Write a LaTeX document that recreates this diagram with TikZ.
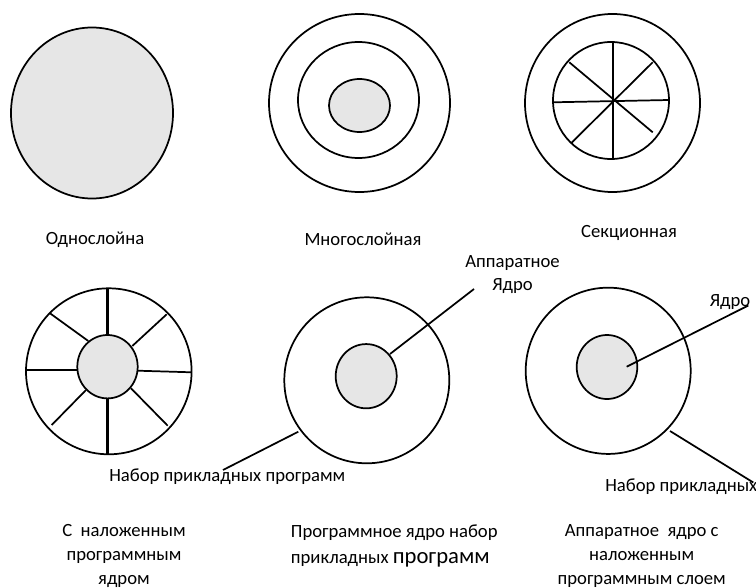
\documentclass[tikz,border=0pt]{standalone}
\usepackage{fontspec}
\setmainfont{Carlito}
\usetikzlibrary{shapes.geometric}
\begin{document}
\begin{tikzpicture}[x=0.75pt,y=-0.75pt,
  ring/.style={draw=black,line width=1.3pt,ellipse,inner sep=0pt,outer sep=0pt},
  core/.style={ring,fill=corefill},
  spoke/.style={draw=black,line width=1.3pt},
  thickspoke/.style={draw=black,line width=1.8pt},
  lead/.style={draw=black,line width=1.3pt},
  lbl/.style={font=\fontsize{14}{18}\selectfont,inner sep=0pt,align=center}]
\definecolor{corefill}{HTML}{E6E6E6}
\useasboundingbox[fill=white] (0,0) rectangle (756,588);

% 1
\node[core,minimum width=121.5pt,minimum height=128.25pt] (c1) at (92,113) {};
\node[lbl] (t1) at (95,240) {Однослойна};

% 2
\node[ring,minimum width=135.75pt,minimum height=133.5pt] (c2o) at (359.5,103) {};
\node[ring,minimum width=90.75pt,minimum height=87pt] (c2m) at (358.5,100) {};
\node[core,minimum width=45.75pt,minimum height=39.75pt] (c2i) at (359.5,105.5) {};
\node[lbl] (t2) at (363,239) {Многослойная};

% 3
\node[ring,minimum width=131.25pt,minimum height=133.5pt] (c3o) at (612.5,103) {};
\node[ring,minimum width=87pt,minimum height=87.75pt] (c3i) at (611,100.5) {};
\draw[spoke] (613.3,42.3) -- (613.3,159);
\draw[spoke] (553.3,102.3) -- (669,100);
\draw[spoke] (569.3,62.3) -- (652.7,132.3);
\draw[spoke] (652.7,62.3) -- (571,143.3);
\node[lbl] (t3) at (629,233) {Секционная};

% 4
\node[ring,minimum width=124.2pt,minimum height=124.5pt] (c4o) at (108.8,371.3) {};
\node[core,minimum width=45.3pt,minimum height=47.55pt] (c4i) at (107.5,366.7) {};
\draw[thickspoke] (107.3,288.3) -- (107.3,335);
\draw[thickspoke] (107.3,398.3) -- (107.3,454.3);
\draw[spoke] (26,370) -- (77.3,370);
\draw[spoke] (137.7,370.7) -- (191.7,372.3);
\draw[spoke] (50,313.3) -- (88.3,341);
\draw[spoke] (166.7,314.3) -- (132.3,346);
\draw[spoke] (51.7,425) -- (86,390);
\draw[spoke] (167.7,425.7) -- (131,388.3);
\node[lbl] (t4) at (124,556) {С\ \ наложенным\\программным\\ядром};

% 5
\node[ring,minimum width=123.75pt,minimum height=124.5pt] (c5o) at (366.8,380.3) {};
\node[core,minimum width=45.75pt,minimum height=48.2pt] (c5i) at (366.2,376.2) {};
\node[lbl,font=\fontsize{14}{16.8}\selectfont] (k5) at (512.5,274.5) {Аппаратное\\Ядро};
\coordinate (k5a) at (390,354);
\coordinate (k5b) at (474,289);
\draw[lead] (k5a) -- (k5b);
\node[lbl,anchor=west] (p5) at (109,477) {Набор прикладных программ};
\coordinate (p5a) at (298.3,431.7);
\coordinate (p5b) at (223,470);
\draw[lead] (p5a) -- (p5b);
\node[lbl,anchor=west,align=left,font=\fontsize{14}{19.5}\selectfont] (t5) at (290.7,546.3) {Программное ядро набор\\прикладных {\fontsize{17}{19.5}\selectfont программ}};

% 6
\node[ring,minimum width=123.75pt,minimum height=124.7pt] (c6o) at (608.2,370.8) {};
\node[core,minimum width=45.45pt,minimum height=48pt] (c6i) at (607,367) {};
\node[lbl] (k6) at (730,301.7) {Ядро};
\coordinate (k6a) at (626.7,366.7);
\coordinate (k6b) at (748.3,305.5);
\draw[lead] (k6a) -- (k6b);
\node[lbl,anchor=west] (p6) at (605,486.7) {Набор прикладных};
\coordinate (p6a) at (670,431);
\coordinate (p6b) at (753.3,482.5);
\draw[lead] (p6a) -- (p6b);
\node[lbl] (t6) at (641.7,556) {Аппаратное\ \ ядро с\\наложенным\\программным слоем};
\end{tikzpicture}
\end{document}
